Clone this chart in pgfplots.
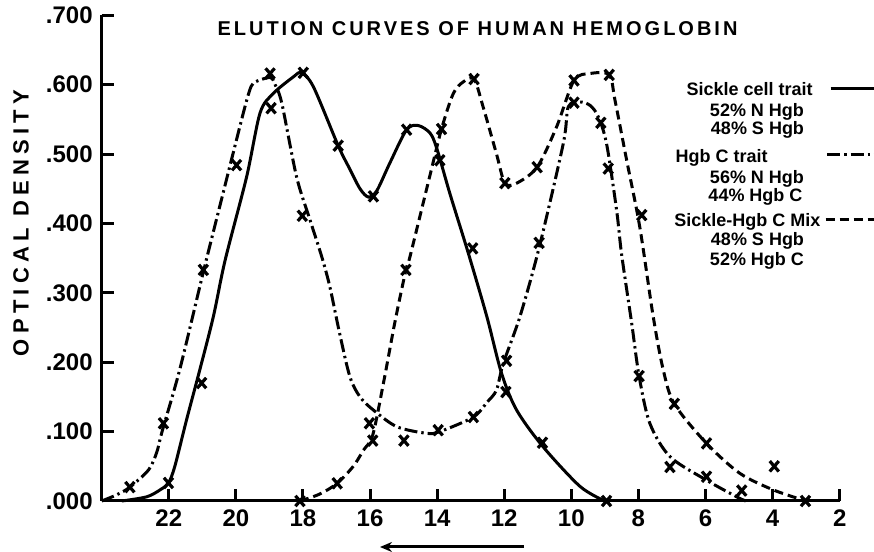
\documentclass[border=0pt]{standalone}
\usepackage{pgfplots}
\pgfplotsset{compat=1.18}
\usetikzlibrary{arrows.meta}
\usepackage{fontspec}
\setmainfont{Liberation Sans}
\newfontfamily\spaced{Liberation Sans}[LetterSpace=15]
\newfontfamily\ylabfont{Liberation Sans}[LetterSpace=24]
\begin{document}
\begin{tikzpicture}
\begin{axis}[
  scale only axis, width=369pt, height=242.9pt,
  xmin=2, xmax=24, ymin=0, ymax=0.7, x dir=reverse,
  axis x line*=bottom, axis y line*=left,
  axis line style={line width=1.5pt},
  xtick={2,4,6,8,10,12,14,16,18,20,22},
  xticklabels={2,4,6,8,10,12,14,16,18,20,22},
  ytick={0,0.1,0.2,0.3,0.4,0.5,0.6,0.7},
  yticklabels={.000,.100,.200,.300,.400,.500,.600,.700},
  tick align=inside, major tick length=6pt,
  every tick/.style={black, line width=1.5pt},
  tick label style={font=\fontsize{12}{14}\selectfont\bfseries},
  xticklabel style={yshift=-1pt},
  yticklabel style={xshift=-1pt},
  clip=false,
]
% Sickle cell trait (solid)
\addplot[black, line width=1.5pt, smooth, tension=0.5] coordinates {
(23.4,0) (22.66,0.006) (22.26,0.016) (22.01,0.026) (21.82,0.05) (21.47,0.117)
(21.07,0.19) (20.67,0.266) (20.32,0.347) (19.68,0.467) (19.28,0.559) (18.89,0.587)
(18.29,0.611) (18.05,0.617) (17.69,0.597) (16.95,0.512) (16.6,0.478) (16.3,0.45)
(16.05,0.438) (15.8,0.447) (15.41,0.487) (14.91,0.535) (14.56,0.541) (14.21,0.53) (14.01,0.508) (13.62,0.443)
(13.07,0.357) (12.52,0.266) (12.08,0.184) (11.63,0.131) (10.84,0.078) (9.74,0.021) (9.0,0)
};
% Hgb C trait (dash-dot)
\addplot[black, line width=1.5pt, smooth, tension=0.5, dash pattern=on 6.5pt off 2pt on 1.2pt off 2pt] coordinates {
(24,0) (23.55,0.009) (23.16,0.02) (22.6,0.045) (22.36,0.07) (22.2,0.1) (21.67,0.19)
(20.97,0.33) (20.4,0.44) (19.8,0.555) (19.6,0.59) (19.48,0.602) (19.2,0.608) (18.95,0.61)
(18.83,0.6) (18.63,0.573) (18.19,0.467) (17.79,0.405) (17.44,0.352) (17.2,0.309) (16.9,0.24)
(16.6,0.179) (16.3,0.15) (15.9,0.131) (15.2,0.107) (14.31,0.0975) (13.92,0.1) (12.92,0.121)
(12.5,0.143) (12.23,0.16) (12.03,0.198) (11.53,0.266) (10.96,0.365) (10.24,0.515) (10.09,0.568)
(9.74,0.575) (9.44,0.57) (9.2,0.554) (8.95,0.515) (8.65,0.419) (8.5,0.355) (8.2,0.256)
(7.98,0.18) (7.66,0.112) (7.06,0.064) (5.97,0.03) (5.07,0.006) (4.8,0)
};
% Sickle-Hgb C mix (dashed)
\addplot[black, line width=1.5pt, smooth, tension=0.5, dash pattern=on 4.5pt off 2.5pt] coordinates {
(18.09,0) (17.5,0.01) (16.98,0.0255) (16.5,0.05) (16.2,0.073) (15.92,0.095) (15.6,0.17)
(15.25,0.26) (14.93,0.333) (14.81,0.352) (14.21,0.47) (13.87,0.536) (13.52,0.587) (13.22,0.604)
(12.9,0.608) (12.63,0.568) (12.23,0.5) (11.98,0.458) (11.63,0.458) (11.02,0.481) (10.44,0.539)
(9.92,0.606) (9.44,0.616) (8.87,0.614) (8.7,0.578) (8.35,0.491) (7.96,0.395) (7.56,0.266)
(7.26,0.189) (6.93,0.14) (5.97,0.083) (4.98,0.04) (3.98,0.016) (3.0,0)
};
% markers
\pgfplotsset{xmk/.style={only marks, mark=x, mark size=3.2pt, mark options={solid, black, line width=1.6pt, yscale=1.15}}}
\addplot[xmk] coordinates {
(22.01,0.026) (21.02,0.17) (18.95,0.566) (17.99,0.617) (16.95,0.512) (15.9,0.439)
(14.91,0.535) (13.92,0.491) (12.94,0.364) (11.95,0.157) (10.86,0.084) (8.95,0)
};
\addplot[xmk] coordinates {
(23.16,0.02) (22.16,0.112) (20.97,0.333) (19.98,0.484) (18.98,0.616) (18.02,0.411)
(16.02,0.112) (14.99,0.087) (13.97,0.102) (12.92,0.121) (11.93,0.202) (10.96,0.372)
(9.92,0.574) (9.12,0.545) (8.9,0.479) (7.98,0.18) (7.06,0.049) (5.97,0.035) (4.92,0.015)
};
\addplot[xmk] coordinates {
(18.09,0) (16.98,0.0255) (15.92,0.087) (14.93,0.333) (13.87,0.536) (12.9,0.608)
(11.98,0.458) (11.02,0.481) (9.92,0.606) (8.87,0.614) (7.9,0.412) (6.93,0.14)
(5.97,0.083) (3.95,0.05) (3.02,0)
};
\end{axis}
% title and labels
\node[font=\fontsize{10}{12}\selectfont\bfseries\spaced] at (187.9pt,236pt) {ELUTION CURVES OF HUMAN HEMOGLOBIN};
\node[rotate=90, font=\fontsize{11}{13}\selectfont\bfseries\ylabfont] at (-40.3pt,139pt) {OPTICAL DENSITY};
\draw[-{Stealth[length=6pt,width=5pt]}, line width=1.5pt] (211.15pt,-23pt) -- (139.15pt,-23pt);
% legend
\begin{scope}[every node/.style={font=\fontsize{9}{10}\selectfont\bfseries, anchor=base, inner sep=0pt}]
\node at (324pt,202.7pt) {Sickle cell trait};
\node at (327.65pt,192.3pt) {52\% N Hgb};
\node at (327.9pt,183.1pt) {48\% S Hgb};
\node at (309.97pt,169.3pt) {Hgb C trait};
\node at (327.65pt,158.9pt) {56\% N Hgb};
\node at (326.9pt,149.8pt) {44\% Hgb C};
\node at (322.8pt,137.3pt) {Sickle-Hgb C Mix};
\node at (327.9pt,127.6pt) {48\% S Hgb};
\node at (327.65pt,117.6pt) {52\% Hgb C};
\end{scope}
\draw[line width=1.5pt] (364.5pt,206pt) -- (390pt,206pt);
\draw[line width=1.5pt, dash pattern=on 6.5pt off 2pt on 1.2pt off 2pt] (362.7pt,173pt) -- (390pt,173pt);
\draw[line width=1.5pt, dash pattern=on 4.5pt off 2.5pt] (362pt,140.5pt) -- (390pt,140.5pt);
\pgfresetboundingbox
\useasboundingbox (-50.85pt,-25.5pt) rectangle (386.15pt,250.5pt);
\end{tikzpicture}
\end{document}
